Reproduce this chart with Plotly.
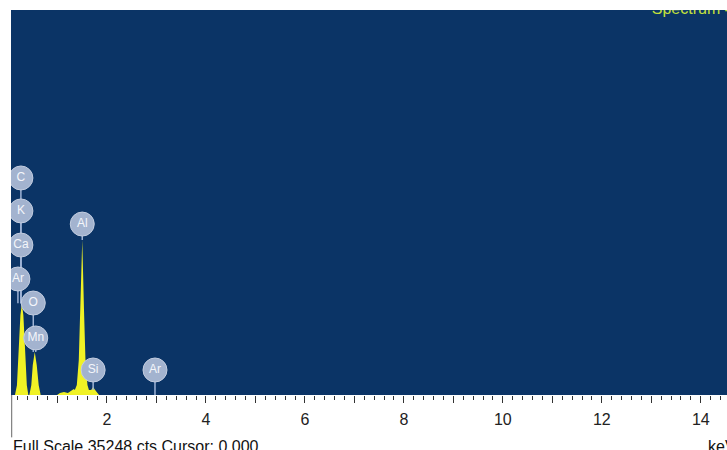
import plotly.graph_objects as go

# EDS spectrum outline (energy in keV, counts)
energy_kev = [0.12, 0.14, 0.18, 0.22, 0.25, 0.28, 0.31, 0.34, 0.38, 0.41,
              0.43, 0.47, 0.50, 0.54, 0.58, 0.62, 0.66,
              0.99, 1.05, 1.13, 1.21, 1.27, 1.33,
              1.35, 1.39, 1.43, 1.465, 1.50, 1.535, 1.565, 1.605, 1.635,
              1.68, 1.72, 1.76, 1.80, 1.84]
counts = [0, 0, 900, 4600, 7300, 8400, 7300, 4600, 900, 0,
          0, 900, 2750, 3940, 2750, 900, 0,
          0, 180, 270, 180, 370, 550,
          460, 915, 3200, 7800, 14200, 7800, 3200, 915, 460,
          460, 730, 460, 180, 0]

full_scale = 35248

# Element markers: name, energy, label height, bottom of the stem
peak_names = ["C", "K", "Ca", "Ar", "O", "Mn", "Al", "Si", "Ar"]
peak_kev = [0.26, 0.26, 0.26, 0.20, 0.51, 0.56, 1.50, 1.72, 2.97]
label_counts = [19870, 16850, 13730, 10620, 8420, 5220, 15650, 2290, 2290]
stem_bottom = [8400, 8400, 8400, 8400, 3940, 3940, 14200, 460, 0]

major_ticks = list(range(1, 15))
major_text = [str(v) if v % 2 == 0 else "" for v in major_ticks]

BG = "#0b3466"
YELLOW = "#f0f225"
BUBBLE = "#a3b3cf"
FONT = "Liberation Sans"

fig = go.Figure()

fig.add_trace(go.Scatter(
    x=energy_kev, y=counts, mode="lines",
    line=dict(color=YELLOW, width=0),
    fill="tozeroy", fillcolor=YELLOW,
    hoverinfo="skip", cliponaxis=True,
))

stem_x, stem_y = [], []
for xe, top, bot in zip(peak_kev, label_counts, stem_bottom):
    stem_x += [xe, xe, None]
    stem_y += [top, bot, None]
fig.add_trace(go.Scatter(
    x=stem_x, y=stem_y, mode="lines",
    line=dict(color="#9fb4d6", width=1.5),
    hoverinfo="skip", cliponaxis=True,
))

fig.add_trace(go.Scatter(
    x=peak_kev, y=label_counts, mode="markers+text",
    marker=dict(size=24, color=BUBBLE, line=dict(color="#c3cde0", width=1)),
    text=peak_names, textposition="middle center",
    textfont=dict(family=FONT, size=12, color="#f4f6fb"),
    hoverinfo="skip", cliponaxis=True,
))

# Spectrum title, partly cut by the top of the plot area
fig.add_trace(go.Scatter(
    x=[13.01], y=[35250], mode="text",
    text=["Spectrum 4"], textposition="middle right",
    textfont=dict(family=FONT, size=16, color="#c4e03c"),
    hoverinfo="skip", cliponaxis=True,
))

fig.add_annotation(
    text="Full Scale 35248 cts Cursor: 0.000",
    xref="paper", yref="paper", x=0.0, y=-0.135,
    xanchor="left", yanchor="middle", showarrow=False,
    font=dict(family=FONT, size=16, color="#111"),
)
fig.add_annotation(
    text="keV",
    xref="paper", yref="paper", x=0.971, y=-0.135,
    xanchor="left", yanchor="middle", showarrow=False,
    font=dict(family=FONT, size=16, color="#111"),
)

fig.add_shape(
    type="line", xref="paper", yref="paper",
    x0=0.001, x1=0.001, y0=0, y1=-0.11,
    line=dict(color="#666", width=1),
)

fig.update_xaxes(
    range=[0.06, 14.53],
    tickmode="array", tickvals=major_ticks, ticktext=major_text,
    ticks="outside", ticklen=7, tickwidth=1, tickcolor="#333",
    minor=dict(ticks="outside", ticklen=4, tickwidth=1, tickcolor="#333",
               tickmode="linear", tick0=0, dtick=0.2),
    tickfont=dict(family=FONT, size=16, color="#222"),
    showgrid=False, zeroline=False, showline=False,
    ticklabelstandoff=3,
)
fig.update_yaxes(range=[0, full_scale], visible=False)

fig.update_layout(
    width=727, height=450,
    margin=dict(l=11, r=0, t=10, b=55),
    plot_bgcolor=BG, paper_bgcolor="white",
    showlegend=False,
)

fig.write_html("out.html")
